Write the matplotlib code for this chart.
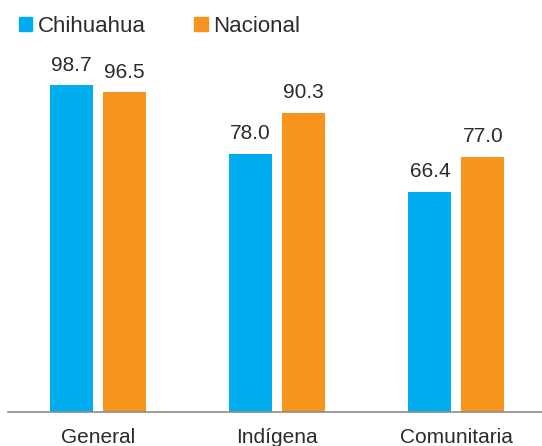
import numpy as np
import matplotlib
matplotlib.use('Agg')
import matplotlib.pyplot as plt
from matplotlib.patches import Patch

categories = ['General', 'Indígena', 'Comunitaria']
chihuahua = [98.7, 78.0, 66.4]
nacional = [96.5, 90.3, 77.0]
series_names = ['Chihuahua', 'Nacional']

BLUE = '#00AEEF'
ORANGE = '#F7941D'
TEXT = '#2b2b2b'

plt.rcParams['font.family'] = ['Liberation Sans', 'DejaVu Sans']

fig = plt.figure(figsize=(5.42, 4.46), dpi=100)
ax = fig.add_axes([8.3 / 542, 34.3 / 446, 533.7 / 542, 364 / 446])

x = np.arange(len(categories))
w = 43 / 179.25
off = 26.5 / 179.25
bars1 = ax.bar(x - off, chihuahua, w, color=BLUE)
bars2 = ax.bar(x + off, nacional, w, color=ORANGE)

# value labels above bars
for bars, vals in ((bars1, chihuahua), (bars2, nacional)):
    for b, v in zip(bars, vals):
        ax.annotate(f'{v:.1f}', (b.get_x() + b.get_width() / 2, v),
                    xytext=(0, 10.5), textcoords='offset points',
                    ha='center', va='baseline', fontsize=15, color=TEXT)

ax.set_xlim(-0.5, 2.477)
ax.set_ylim(0, 110)
ax.set_xticks(x)
ax.set_xticklabels(categories, fontsize=15, color=TEXT)
ax.tick_params(axis='x', length=0, pad=11.5)
ax.set_yticks([])
for s in ['top', 'right', 'left']:
    ax.spines[s].set_visible(False)
ax.spines['bottom'].set_color('#8c8c8c')
ax.spines['bottom'].set_linewidth(1.2)

handles = [Patch(color=BLUE), Patch(color=ORANGE)]
fig.legend(handles, series_names, loc='upper left',
           bbox_to_anchor=(19 / 542, 1 - 15.5 / 446), ncol=2, frameon=False,
           fontsize=16, handlelength=0.6, handleheight=0.6,
           handletextpad=0.23, columnspacing=2.2, borderpad=0,
           borderaxespad=0, labelcolor=TEXT)

fig.savefig('out.png', dpi=100)
